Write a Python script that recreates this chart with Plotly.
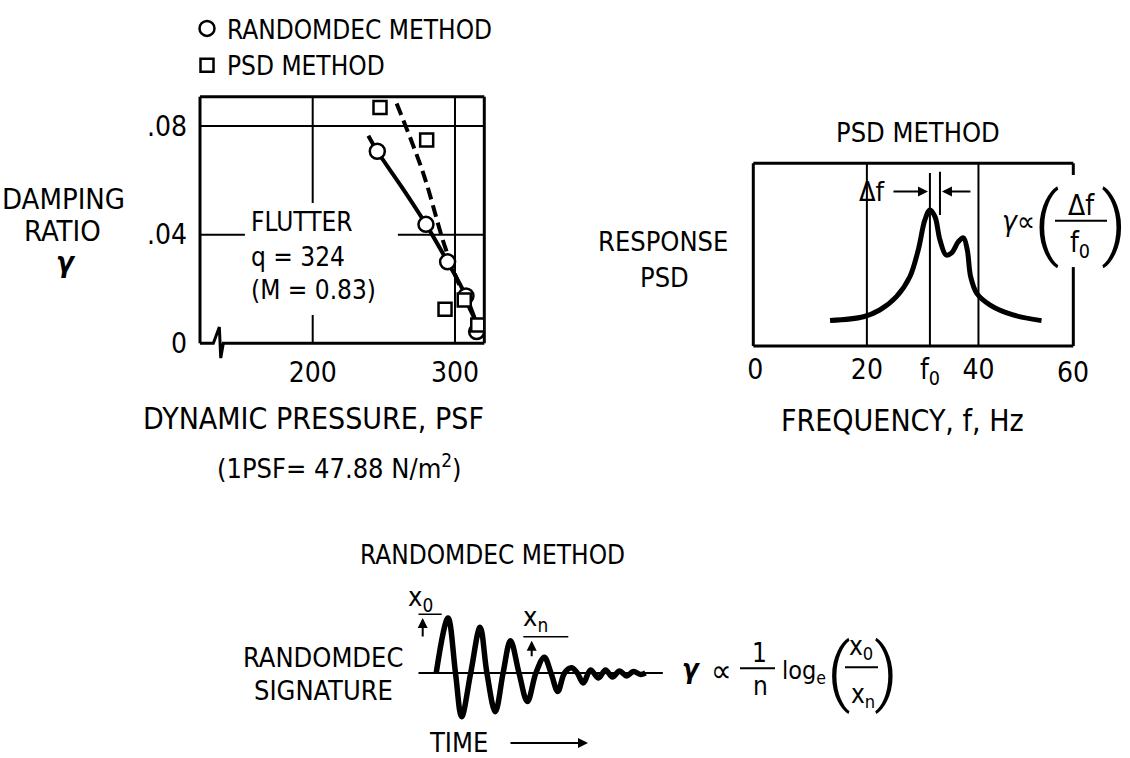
import plotly.graph_objects as go

W, H = 1130, 758
FONT = "Liberation Sans Narrow, Arial Narrow, DejaVu Sans Condensed, Liberation Sans, Arial, sans-serif"
FS = 28
PAREN_FONT = dict(family="Roboto, Lato, Open Sans, sans-serif", weight=300, color="black")

# ---------------- data: damping ratio vs dynamic pressure ----------------
RD_Q = [245.4, 279.6, 294.8, 307.7, 315.2]
RD_G = [0.0707, 0.0438, 0.0300, 0.0174, 0.0043]
PSD_Q = [247.3, 280.1, 293.0, 306.5, 316.0]
PSD_G = [0.0868, 0.0749, 0.0125, 0.0159, 0.0067]
RD_FIT_Q = [239.1, 245.4, 262.5, 279.6, 294.8, 307.7, 318.7]
RD_FIT_G = [0.0764, 0.0707, 0.0576, 0.0438, 0.0300, 0.0174, 0.0018]
PSD_FIT_Q = [259.0, 277.7, 293.0, 305.0, 318.8]
PSD_FIT_G = [0.0883, 0.0626, 0.0355, 0.0190, 0.0037]
Q_TICKS = [200, 300]
G_TICKS = [0, 0.04, 0.08]
G_TICKTEXT = ["0", ".04", ".08"]
FLUTTER_LINES = ["FLUTTER", "q = 324", "(M = 0.83)"]

# ---------------- data: PSD method ----------------
PSD_F = [13.4, 19.4, 22.3, 25.3, 27.7, 29.2, 30.4, 31.3, 32.2, 33.1, 34.2, 35.2,
         36.4, 37.3, 38.0, 38.6, 39.7, 42.1, 46.2, 51.3]
PSD_A = [0.139, 0.160, 0.197, 0.270, 0.379, 0.525, 0.690, 0.745, 0.708, 0.580, 0.498, 0.510,
         0.571, 0.592, 0.525, 0.379, 0.288, 0.224, 0.170, 0.139]
F0 = 31.3
DF_EDGE = 33.1
F_TICKS = [0, 20, F0, 40]
F_TICKTEXT = ["0", "20", "f<sub>0</sub>", "40"]

# ---------------- data: Randomdec signature ----------------
SIG_T = [17.7, 29.5, 37.0, 43.1, 52.2, 61.6, 68.4, 76.8, 84.6, 92.0, 100.5, 108.9, 117.4,
         125.8, 132.5, 139.3, 146.0, 152.9, 158.8, 164.7, 172, 180, 187, 194, 201, 208, 215, 222, 227]
SIG_A = [0, 55, 0, -43.8, 0, 45.8, 0, -38.7, 0, 32.3, 0, -28.6, 0,
         15.7, 0, -18.4, 0, 5.2, 0, -10, 3, -5, 3, -4, 2, -3, 1.5, -1.5, 0]
X0_IDX, XN_IDX = 1, 9


def px(x):
    return x / W


def py(y):
    return 1 - y / H


fig = go.Figure()

# left chart traces
fig.add_trace(go.Scatter(x=RD_FIT_Q, y=RD_FIT_G, mode="lines", line=dict(color="black", width=4, shape="spline"),
                         showlegend=False, xaxis="x", yaxis="y"))
fig.add_trace(go.Scatter(x=PSD_FIT_Q, y=PSD_FIT_G, mode="lines",
                         line=dict(color="black", width=4, dash="12px,6px", shape="spline"),
                         showlegend=False, xaxis="x", yaxis="y"))
fig.add_trace(go.Scatter(x=RD_Q, y=RD_G, mode="markers", name="RANDOMDEC METHOD",
                         marker=dict(symbol="circle", size=15, color="white", line=dict(color="black", width=2.5)),
                         xaxis="x", yaxis="y"))
fig.add_trace(go.Scatter(x=PSD_Q, y=PSD_G, mode="markers", name="PSD METHOD",
                         marker=dict(symbol="square", size=13, color="white", line=dict(color="black", width=2.5)),
                         xaxis="x", yaxis="y"))
# PSD curve
fig.add_trace(go.Scatter(x=PSD_F, y=PSD_A, mode="lines", line=dict(color="black", width=5, shape="spline"),
                         showlegend=False, xaxis="x2", yaxis="y2"))
# Randomdec signature
fig.add_trace(go.Scatter(x=SIG_T, y=SIG_A, mode="lines", line=dict(color="black", width=5.5, shape="spline"),
                         showlegend=False, xaxis="x3", yaxis="y3"))

shapes = []


def seg(xref, yref, x0, y0, x1, y1, w=2):
    shapes.append(dict(type="line", xref=xref, yref=yref, x0=x0, y0=y0, x1=x1, y1=y1,
                       line=dict(color="black", width=w), layer="below"))


# left frame + grid
seg("x domain", "y domain", 0, 0, 0, 1, 3)
seg("x domain", "y domain", 0, 1, 1, 1, 3)
seg("x domain", "y domain", 1, 0, 1, 1, 3)
shapes.append(dict(type="path", xref="x domain", yref="y domain",
                   path="M0,0 L0.047,0 L0.068,0.066 L0.073,-0.06 L0.082,0 L1,0",
                   line=dict(color="black", width=3), layer="below"))
for q in Q_TICKS:
    seg("x", "y domain", q, 0, q, 1, 2)
for g in G_TICKS[1:]:
    seg("x domain", "y", 0, g, 1, g, 2)
shapes.append(dict(type="rect", xref="x domain", yref="y domain", x0=0.158, x1=0.696, y0=0.115, y1=0.569,
                   fillcolor="white", line=dict(width=0), layer="below"))

# PSD frame + grid
seg("x2 domain", "y2 domain", 0, 0, 0, 1, 3)
seg("x2 domain", "y2 domain", 0, 1, 1, 1, 3)
seg("x2 domain", "y2 domain", 0, 0, 1, 0, 3)
seg("x2 domain", "y2 domain", 1, 0, 1, 0.432, 3)
seg("x2 domain", "y2 domain", 1, 0.936, 1, 1, 3)
for f in [20, 40]:
    seg("x2", "y2 domain", f, 0, f, 1, 2)
seg("x2", "y2", F0, 0, F0, 0.947, 2)
seg("x2", "y2", DF_EDGE, 0.717, DF_EDGE, 0.954, 2)

# signature baseline and amplitude bars
seg("x3 domain", "y3", 0, 0, 1, 0, 2)
seg("x3", "y3", -21.8, SIG_A[X0_IDX] + 3.7, 23.2, SIG_A[X0_IDX] + 3.7, 1.5)
seg("x3", "y3", 104.8, SIG_A[XN_IDX] + 4, 149.8, SIG_A[XN_IDX] + 4, 1.5)

# fraction bars (paper)
for (a, b, y) in [(1055, 1107, 220.7), (740, 775, 668.3), (845, 878, 667.3)]:
    shapes.append(dict(type="line", xref="paper", yref="paper", x0=px(a), x1=px(b), y0=py(y), y1=py(y),
                       line=dict(color="black", width=2)))

ann = []


def txt(s, x, y, size=FS, xanchor="center", yanchor="middle", font=None):
    f = dict(size=size, family=FONT, color="black")
    if font:
        f = dict(font, size=size)
    ann.append(dict(text=s, x=px(x), y=py(y), xref="paper", yref="paper", showarrow=False,
                    xanchor=xanchor, yanchor=yanchor, font=f))


def arrow(x, y, ax, ay, xref="paper", yref="paper"):
    ann.append(dict(text="", x=x, y=y, xref=xref, yref=yref, ax=ax, ay=ay, axref="pixel", ayref="pixel",
                    showarrow=True, arrowhead=2, arrowsize=1, arrowwidth=2, arrowcolor="black"))


# left chart labels
txt("DAMPING", 63, 199, 29)
txt("RATIO", 62.5, 231, 29)
txt("<b><i>γ</i></b>", 66, 262, 29)
for s, yy in zip(FLUTTER_LINES, [221.7, 256.7, 290]):
    txt(s, 249, yy, 26, xanchor="left")
txt("DYNAMIC PRESSURE, PSF", 313, 418, 30)
txt("(1PSF= 47.88 N/m<sup>2</sup>)", 339, 466, 27)

# PSD labels
txt("PSD METHOD", 918, 133, 27)
txt("RESPONSE", 663.5, 242, 27)
txt("PSD", 664, 278, 27)
txt("60", 1073, 372, 28)
txt("FREQUENCY, f, Hz", 902.5, 420, 30)
txt("Δf", 872, 191.7, 27)
arrow(30.95, 0.845, -36, 0, "x2", "y2")
arrow(33.45, 0.845, 30, 0, "x2", "y2")
txt("<i>γ</i>∝", 1018, 221, 28)
txt("(", 1047, 222.5, 80, font=PAREN_FONT)
txt(")", 1114, 222.5, 80, font=PAREN_FONT)
txt("Δf", 1081, 205, 28)
txt("f<sub>0</sub>", 1080, 244, 28)

# Randomdec labels
txt("RANDOMDEC METHOD", 492.8, 554.6, 26)
txt("RANDOMDEC", 323, 657.7, 27)
txt("SIGNATURE", 323, 690.6, 27)
txt("x<sub>0</sub>", 420.5, 598, 27)
txt("x<sub>n</sub>", 535, 618, 27)
arrow(4.2, SIG_A[X0_IDX], 0, 20, "x3", "y3")
arrow(113.2, SIG_A[XN_IDX], 0, 17, "x3", "y3")
txt("TIME", 458, 742, 27)
arrow(px(588), py(743), -79, 0)
txt("<b><i>γ</i></b>", 691, 668, 27)
txt("∝", 721, 671, 32)
txt("1", 759, 653, 26)
txt("n", 760, 686, 26)
txt("log<sub>e</sub>", 780, 672, 25, xanchor="left")
txt("(", 839, 671, 74, font=PAREN_FONT)
txt("x<sub>0</sub>", 861, 647, 26)
txt("x<sub>n</sub>", 863, 695, 26)
txt(")", 886, 671, 74, font=PAREN_FONT)

axfont = dict(size=28, family=FONT, color="black")
fig.update_layout(
    template="none",
    width=W, height=H, autosize=False,
    margin=dict(l=0, r=0, t=0, b=0, pad=0),
    paper_bgcolor="white", plot_bgcolor="white",
    font=dict(family=FONT, size=FS, color="black"),
    showlegend=True,
    legend=dict(x=px(187), y=py(5), xanchor="left", yanchor="top", font=dict(size=26, family=FONT),
                bgcolor="rgba(0,0,0,0)", borderwidth=0, tracegroupgap=0),
    xaxis=dict(domain=[px(200), px(484.3)], range=[120.8, 320.6], tickvals=Q_TICKS, showgrid=False,
               zeroline=False, showline=False, ticks="", ticklabelstandoff=10, tickfont=axfont,
               anchor="y", automargin=False),
    yaxis=dict(domain=[py(343.3), py(96.7)], range=[0, 0.0908], tickvals=G_TICKS, ticktext=G_TICKTEXT,
               showgrid=False, zeroline=False, showline=False, ticks="", ticklabelstandoff=12,
               tickfont=axfont, anchor="x", automargin=False),
    xaxis2=dict(domain=[px(753.3), px(1073.3)], range=[-0.36, 57.0], tickvals=F_TICKS, ticktext=F_TICKTEXT,
                showgrid=False, zeroline=False, showline=False, ticks="", ticklabelstandoff=4,
                tickfont=axfont, anchor="y2", automargin=False),
    yaxis2=dict(domain=[py(346), py(163.3)], range=[0, 1], visible=False, anchor="x2", automargin=False),
    xaxis3=dict(domain=[px(418.5), px(662.8)], range=[0, 244.3], visible=False, anchor="y3", automargin=False),
    yaxis3=dict(domain=[py(730), py(600)], range=[-57, 73], visible=False, anchor="x3", automargin=False),
    shapes=shapes,
    annotations=ann,
)

fig.write_html("out.html")
